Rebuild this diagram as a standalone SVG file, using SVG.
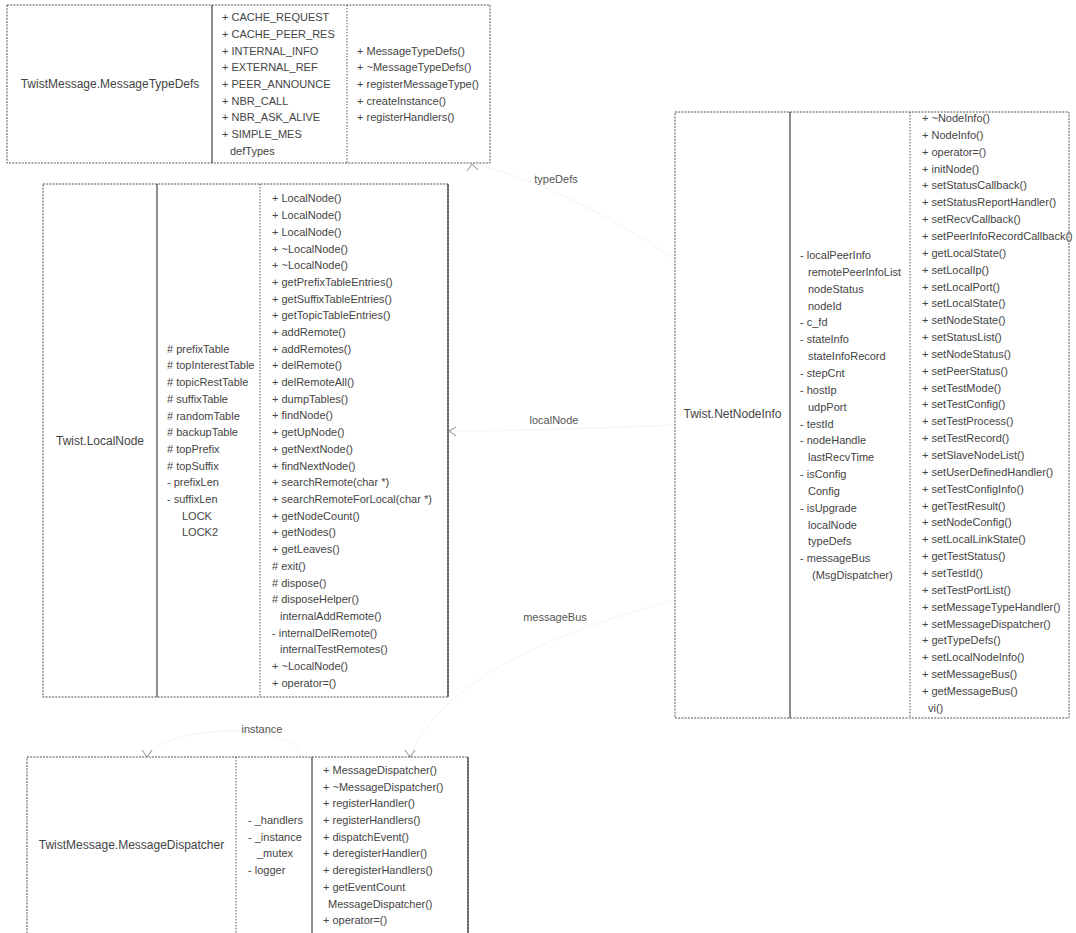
<svg xmlns="http://www.w3.org/2000/svg" width="1076" height="933" viewBox="0 0 1076 933">
<style>
  .frame { fill: #ffffff; stroke: #555; stroke-width: 1; stroke-dasharray: 2 1.2; }
  .solid { stroke: #1a1a1a; stroke-width: 1; }
  .dot { stroke: #555; stroke-width: 1; stroke-dasharray: 1.5 1.5; }
  .name { font-family: "Liberation Sans", Arial, sans-serif; font-size: 12px; fill: #444; text-anchor: middle; }
  .mem { font-family: "Liberation Sans", Arial, sans-serif; font-size: 11px; fill: #444; }
  .lbl { font-family: "Liberation Sans", Arial, sans-serif; font-size: 11px; fill: #555; text-anchor: middle; }
  .edge { fill: none; stroke: #f4f4f4; stroke-width: 1; }
  .head { fill: none; stroke: #8a8a8a; stroke-width: 1; }
</style>

<g id="connectors">
  <path class="edge" d="M675 260 C610 215 530 175 472 164"/>
  <polyline class="head" points="467,171 472,164 478,170"/>
  <text class="lbl" x="556" y="183">typeDefs</text>

  <path class="edge" d="M675 425 C600 428 520 431 449 431"/>
  <polyline class="head" points="456,427 449,431 456,436"/>
  <text class="lbl" x="554" y="424">localNode</text>

  <path class="edge" d="M675 600 C560 630 440 680 410 757"/>
  <polyline class="head" points="405,750 410,757 415,750"/>
  <text class="lbl" x="555" y="621">messageBus</text>

  <path class="edge" d="M300 757 C300 722 170 722 147 757"/>
  <polyline class="head" points="142,750 147,757 152,750"/>
  <text class="lbl" x="262" y="733">instance</text>
</g>

<g id="MessageTypeDefs">
  <rect class="frame" x="7" y="5" width="483" height="158"/>
  <line class="solid" x1="212" y1="5" x2="212" y2="163"/>
  <line class="dot" x1="347" y1="5" x2="347" y2="163"/>
  <text class="name" x="110" y="88">TwistMessage.MessageTypeDefs</text>
  <text class="mem">
    <tspan x="222" y="21.2">+ CACHE_REQUEST</tspan>
    <tspan x="222" dy="16.7">+ CACHE_PEER_RES</tspan>
    <tspan x="222" dy="16.7">+ INTERNAL_INFO</tspan>
    <tspan x="222" dy="16.7">+ EXTERNAL_REF</tspan>
    <tspan x="222" dy="16.7">+ PEER_ANNOUNCE</tspan>
    <tspan x="222" dy="16.7">+ NBR_CALL</tspan>
    <tspan x="222" dy="16.7">+ NBR_ASK_ALIVE</tspan>
    <tspan x="222" dy="16.7">+ SIMPLE_MES</tspan>
    <tspan x="230" dy="16.7">defTypes</tspan>
  </text>
  <text class="mem">
    <tspan x="357" y="54.6">+ MessageTypeDefs()</tspan>
    <tspan x="357" dy="16.7">+ ~MessageTypeDefs()</tspan>
    <tspan x="357" dy="16.7">+ registerMessageType()</tspan>
    <tspan x="357" dy="16.7">+ createInstance()</tspan>
    <tspan x="357" dy="16.7">+ registerHandlers()</tspan>
  </text>
</g>

<g id="LocalNode">
  <rect class="frame" x="43" y="184" width="405" height="513"/>
  <line class="solid" x1="157" y1="184" x2="157" y2="697"/>
  <line class="dot" x1="260" y1="184" x2="260" y2="697"/>
  <line class="solid" x1="448" y1="184" x2="448" y2="697"/>
  <text class="name" x="100" y="445">Twist.LocalNode</text>
  <text class="mem">
    <tspan x="167" y="352.7"># prefixTable</tspan>
    <tspan x="167" dy="16.7"># topInterestTable</tspan>
    <tspan x="167" dy="16.7"># topicRestTable</tspan>
    <tspan x="167" dy="16.7"># suffixTable</tspan>
    <tspan x="167" dy="16.7"># randomTable</tspan>
    <tspan x="167" dy="16.7"># backupTable</tspan>
    <tspan x="167" dy="16.7"># topPrefix</tspan>
    <tspan x="167" dy="16.7"># topSuffix</tspan>
    <tspan x="167" dy="16.7">- prefixLen</tspan>
    <tspan x="167" dy="16.7">- suffixLen</tspan>
    <tspan x="182" dy="16.7">LOCK</tspan>
    <tspan x="182" dy="16.7">LOCK2</tspan>
  </text>
  <text class="mem">
    <tspan x="272" y="202.4">+ LocalNode()</tspan>
    <tspan x="272" dy="16.7">+ LocalNode()</tspan>
    <tspan x="272" dy="16.7">+ LocalNode()</tspan>
    <tspan x="272" dy="16.7">+ ~LocalNode()</tspan>
    <tspan x="272" dy="16.7">+ ~LocalNode()</tspan>
    <tspan x="272" dy="16.7">+ getPrefixTableEntries()</tspan>
    <tspan x="272" dy="16.7">+ getSuffixTableEntries()</tspan>
    <tspan x="272" dy="16.7">+ getTopicTableEntries()</tspan>
    <tspan x="272" dy="16.7">+ addRemote()</tspan>
    <tspan x="272" dy="16.7">+ addRemotes()</tspan>
    <tspan x="272" dy="16.7">+ delRemote()</tspan>
    <tspan x="272" dy="16.7">+ delRemoteAll()</tspan>
    <tspan x="272" dy="16.7">+ dumpTables()</tspan>
    <tspan x="272" dy="16.7">+ findNode()</tspan>
    <tspan x="272" dy="16.7">+ getUpNode()</tspan>
    <tspan x="272" dy="16.7">+ getNextNode()</tspan>
    <tspan x="272" dy="16.7">+ findNextNode()</tspan>
    <tspan x="272" dy="16.7">+ searchRemote(char *)</tspan>
    <tspan x="272" dy="16.7">+ searchRemoteForLocal(char *)</tspan>
    <tspan x="272" dy="16.7">+ getNodeCount()</tspan>
    <tspan x="272" dy="16.7">+ getNodes()</tspan>
    <tspan x="272" dy="16.7">+ getLeaves()</tspan>
    <tspan x="272" dy="16.7"># exit()</tspan>
    <tspan x="272" dy="16.7"># dispose()</tspan>
    <tspan x="272" dy="16.7"># disposeHelper()</tspan>
    <tspan x="280" dy="16.7">internalAddRemote()</tspan>
    <tspan x="272" dy="16.7">- internalDelRemote()</tspan>
    <tspan x="280" dy="16.7">internalTestRemotes()</tspan>
    <tspan x="272" dy="16.7">+ ~LocalNode()</tspan>
    <tspan x="272" dy="16.7">+ operator=()</tspan>
  </text>
</g>

<g id="NetNodeInfo">
  <rect class="frame" x="675" y="112" width="394" height="606"/>
  <line class="solid" x1="790" y1="112" x2="790" y2="718"/>
  <line class="dot" x1="910" y1="112" x2="910" y2="718"/>
  <text class="name" x="732.5" y="418">Twist.NetNodeInfo</text>
  <text class="mem">
    <tspan x="800" y="259">- localPeerInfo</tspan>
    <tspan x="808" dy="16.85">remotePeerInfoList</tspan>
    <tspan x="808" dy="16.85">nodeStatus</tspan>
    <tspan x="808" dy="16.85">nodeId</tspan>
    <tspan x="800" dy="16.85">- c_fd</tspan>
    <tspan x="800" dy="16.85">- stateInfo</tspan>
    <tspan x="808" dy="16.85">stateInfoRecord</tspan>
    <tspan x="800" dy="16.85">- stepCnt</tspan>
    <tspan x="800" dy="16.85">- hostIp</tspan>
    <tspan x="808" dy="16.85">udpPort</tspan>
    <tspan x="800" dy="16.85">- testId</tspan>
    <tspan x="800" dy="16.85">- nodeHandle</tspan>
    <tspan x="808" dy="16.85">lastRecvTime</tspan>
    <tspan x="800" dy="16.85">- isConfig</tspan>
    <tspan x="808" dy="16.85">Config</tspan>
    <tspan x="800" dy="16.85">- isUpgrade</tspan>
    <tspan x="808" dy="16.85">localNode</tspan>
    <tspan x="808" dy="16.85">typeDefs</tspan>
    <tspan x="800" dy="16.85">- messageBus</tspan>
    <tspan x="812" dy="16.85">(MsgDispatcher)</tspan>
  </text>
  <text class="mem">
    <tspan x="922" y="122">+ ~NodeInfo()</tspan>
    <tspan x="922" dy="16.85">+ NodeInfo()</tspan>
    <tspan x="922" dy="16.85">+ operator=()</tspan>
    <tspan x="922" dy="16.85">+ initNode()</tspan>
    <tspan x="922" dy="16.85">+ setStatusCallback()</tspan>
    <tspan x="922" dy="16.85">+ setStatusReportHandler()</tspan>
    <tspan x="922" dy="16.85">+ setRecvCallback()</tspan>
    <tspan x="922" dy="16.85">+ setPeerInfoRecordCallback()</tspan>
    <tspan x="922" dy="16.85">+ getLocalState()</tspan>
    <tspan x="922" dy="16.85">+ setLocalIp()</tspan>
    <tspan x="922" dy="16.85">+ setLocalPort()</tspan>
    <tspan x="922" dy="16.85">+ setLocalState()</tspan>
    <tspan x="922" dy="16.85">+ setNodeState()</tspan>
    <tspan x="922" dy="16.85">+ setStatusList()</tspan>
    <tspan x="922" dy="16.85">+ setNodeStatus()</tspan>
    <tspan x="922" dy="16.85">+ setPeerStatus()</tspan>
    <tspan x="922" dy="16.85">+ setTestMode()</tspan>
    <tspan x="922" dy="16.85">+ setTestConfig()</tspan>
    <tspan x="922" dy="16.85">+ setTestProcess()</tspan>
    <tspan x="922" dy="16.85">+ setTestRecord()</tspan>
    <tspan x="922" dy="16.85">+ setSlaveNodeList()</tspan>
    <tspan x="922" dy="16.85">+ setUserDefinedHandler()</tspan>
    <tspan x="922" dy="16.85">+ setTestConfigInfo()</tspan>
    <tspan x="922" dy="16.85">+ getTestResult()</tspan>
    <tspan x="922" dy="16.85">+ setNodeConfig()</tspan>
    <tspan x="922" dy="16.85">+ setLocalLinkState()</tspan>
    <tspan x="922" dy="16.85">+ getTestStatus()</tspan>
    <tspan x="922" dy="16.85">+ setTestId()</tspan>
    <tspan x="922" dy="16.85">+ setTestPortList()</tspan>
    <tspan x="922" dy="16.85">+ setMessageTypeHandler()</tspan>
    <tspan x="922" dy="16.85">+ setMessageDispatcher()</tspan>
    <tspan x="922" dy="16.85">+ getTypeDefs()</tspan>
    <tspan x="922" dy="16.85">+ setLocalNodeInfo()</tspan>
    <tspan x="922" dy="16.85">+ setMessageBus()</tspan>
    <tspan x="922" dy="16.85">+ getMessageBus()</tspan>
    <tspan x="928" dy="16.85">vi()</tspan>
  </text>
</g>

<g id="MessageDispatcher">
  <rect class="frame" x="27" y="757" width="441" height="180"/>
  <line class="dot" x1="236" y1="757" x2="236" y2="937"/>
  <line class="solid" x1="312" y1="757" x2="312" y2="937"/>
  <line class="solid" x1="468" y1="757" x2="468" y2="937"/>
  <text class="name" x="131.5" y="849">TwistMessage.MessageDispatcher</text>
  <text class="mem">
    <tspan x="248" y="824">- _handlers</tspan>
    <tspan x="248" dy="16.7">- _instance</tspan>
    <tspan x="257" dy="16.7">_mutex</tspan>
    <tspan x="248" dy="16.7">- logger</tspan>
  </text>
  <text class="mem">
    <tspan x="323" y="773.9">+ MessageDispatcher()</tspan>
    <tspan x="323" dy="16.7">+ ~MessageDispatcher()</tspan>
    <tspan x="323" dy="16.7">+ registerHandler()</tspan>
    <tspan x="323" dy="16.7">+ registerHandlers()</tspan>
    <tspan x="323" dy="16.7">+ dispatchEvent()</tspan>
    <tspan x="323" dy="16.7">+ deregisterHandler()</tspan>
    <tspan x="323" dy="16.7">+ deregisterHandlers()</tspan>
    <tspan x="323" dy="16.7">+ getEventCount</tspan>
    <tspan x="328" dy="16.7">MessageDispatcher()</tspan>
    <tspan x="323" dy="16.7">+ operator=()</tspan>
  </text>
</g>
</svg>
